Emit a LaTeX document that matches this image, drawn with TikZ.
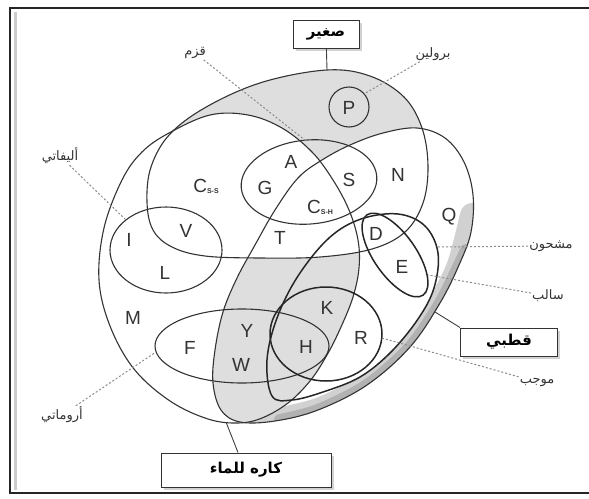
\documentclass[tikz,border=0pt]{standalone}
\usepackage{fontspec}
\setmainfont{Liberation Sans}
\newfontfamily\arabicfont[Script=Arabic]{DejaVu Sans}
\TeXXeTstate=1
\usetikzlibrary{shadows}
\newcommand{\artext}[1]{{\arabicfont\beginR #1\endR}}
\newcommand{\subsmall}[1]{{\fontsize{7}{7}\selectfont\bfseries\raisebox{-1pt}{#1}}}

\tikzset{
  setline/.style={draw=black!80, line width=1.1pt},
  boldset/.style={draw=black!85, line width=1.5pt},
  aa/.style={font=\fontsize{19}{19}\selectfont, text=black!80, inner sep=0pt},
  arlbl/.style={font=\fontsize{13}{15}\selectfont, text=black!80, inner sep=1pt},
  tagbox/.style={draw=black!80, line width=1pt, fill=white, minimum height=28pt,
    font=\fontsize{15}{17}\selectfont\bfseries,
    drop shadow={shadow xshift=2.5pt, shadow yshift=-2.5pt, fill=black!35}},
  dotline/.style={draw=black!45, line width=1pt, dash pattern=on 2pt off 2pt},
  tagline/.style={draw=black!75, line width=0.9pt}
}

\begin{document}
\begin{tikzpicture}[x=1pt, y=-1pt]
  \useasboundingbox (0,0) rectangle (589,498);
  \fill[white] (0,0) rectangle (589,498);

  % outlines of the sets
  \def\smallpath{plot[smooth cycle, tension=0.6] coordinates {(327,70) (370,76) (404,97) (422,128) (428,166) (423,203) (405,232) (372,249) (320,257) (260,258) (205,256) (172,247) (153,230) (147,202) (151,167) (170,134) (208,106) (263,82)}}
  \def\hydropath{plot[smooth cycle, tension=0.6] coordinates {(169,133) (210,115) (248,115) (282,128) (312,152) (333,180) (349,210) (358,240) (359,268) (353,297) (341,327) (327,355) (310,381) (288,403) (262,418) (238,423) (208,419) (170,401) (134,369) (110,326) (99,280) (104,228) (122,180) (142,152)}}
  \def\polarpath{plot[smooth cycle, tension=0.6] coordinates {(240,422) (221,410) (213,383) (215,350) (223,312) (237,278) (255,245) (275,210) (298,178) (322,160) (350,145) (383,133) (417,128) (445,138) (464,162) (473,195) (471,232) (459,265) (440,303) (410,347) (367,385) (318,410) (275,421)}}
  \def\chargedpath{plot[smooth cycle, tension=0.6] coordinates {(272,396) (267,360) (277,318) (298,276) (329,238) (361,219) (398,214) (425,226) (438,253) (434,288) (418,319) (391,352) (360,377) (323,392) (292,400)}}

  % grey shading
  \begin{scope}
    \clip \polarpath;
    \draw[black!18, line width=24pt, line cap=round] plot[smooth] coordinates {(472,215) (459,265) (440,303) (410,347) (367,385) (318,410) (262,423)};
    \draw[black!30, line width=12pt, line cap=round] plot[smooth] coordinates {(466,250) (459,265) (440,303) (410,347) (367,385) (318,410) (280,420)};
    \fill[white] \chargedpath;
  \end{scope}
  \begin{scope}
    \clip \polarpath;
    \clip \hydropath;
    \fill[black!13] (0,0) rectangle (589,498);
    \fill[white] \smallpath;
  \end{scope}
  \begin{scope}
    \clip \smallpath;
    \fill[black!13] (0,0) rectangle (589,498);
    \fill[white] \hydropath;
    \fill[white] \polarpath;
  \end{scope}

  \draw[setline] \smallpath;
  \draw[setline] \hydropath;
  \draw[setline] \polarpath;
  \draw[boldset] \chargedpath;
  \draw[setline, rotate around={5:(309,182)}] (309,182) ellipse [x radius=68pt, y radius=42pt];
  \draw[setline] (349,107) circle [radius=20pt];
  \draw[setline] (166,250) ellipse [x radius=56pt, y radius=43pt];
  \draw[setline] (242,346) ellipse [x radius=87pt, y radius=37pt];
  \draw[boldset] (326,334) ellipse [x radius=56pt, y radius=47pt];
  \draw[boldset, rotate around={-55:(395,255)}] (395,255) ellipse [x radius=49pt, y radius=21pt];

  % amino acids
  \node[aa] (resP) at (349,108) {P};
  \node[aa] (resA) at (291,162) {A};
  \node[aa] (resG) at (265,188) {G};
  \node[aa] (resS) at (349,180) {S};
  \node[aa] (resN) at (398,175) {N};
  \node[aa] (resCss) at (206,186) {C\subsmall{S-S}};
  \node[aa] (resCsh) at (320,207) {C\subsmall{S-H}};
  \node[aa] (resT) at (280,238) {T};
  \node[aa] (resD) at (376,234) {D};
  \node[aa] (resQ) at (449,217) {Q};
  \node[aa] (resE) at (402,267) {E};
  \node[aa] (resI) at (129,240) {I};
  \node[aa] (resV) at (186,231) {V};
  \node[aa] (resL) at (165,273) {L};
  \node[aa] (resM) at (133,318) {M};
  \node[aa] (resK) at (327,308) {K};
  \node[aa] (resR) at (361,338) {R};
  \node[aa] (resH) at (306,347) {H};
  \node[aa] (resY) at (247,331) {Y};
  \node[aa] (resF) at (190,348) {F};
  \node[aa] (resW) at (241,365) {W};

  % points on the outlines
  \coordinate (tinytop) at (306,141);
  \coordinate (protop) at (364,94);
  \coordinate (alitop) at (126,220);
  \coordinate (chgright) at (437,247);
  \coordinate (negright) at (428,275);
  \coordinate (posright) at (382,338);
  \coordinate (aroleft) at (156,352);
  \coordinate (smalltop) at (327,70);
  \coordinate (polaredge) at (435,312);
  \coordinate (hydrobottom) at (226,422);

  % labels
  \node[arlbl] (tinylbl) at (195,53) {\artext{قزم}};
  \node[arlbl] (prolbl) at (433,54) {\artext{برولين}};
  \node[arlbl] (alilbl) at (60,156) {\artext{أليفاتي}};
  \node[arlbl] (chglbl) at (551,246) {\artext{مشحون}};
  \node[arlbl] (neglbl) at (548,296) {\artext{سالب}};
  \node[arlbl] (poslbl) at (537,382) {\artext{موجب}};
  \node[arlbl] (arolbl) at (62,415) {\artext{أروماتي}};

  \draw[dotline] (tinylbl) -- (tinytop);
  \draw[dotline] (prolbl) -- (protop);
  \draw[dotline] (alilbl) -- (alitop);
  \draw[dotline] (chglbl) -- (chgright);
  \draw[dotline] (neglbl) -- (negright);
  \draw[dotline] (poslbl) -- (posright);
  \draw[dotline] (arolbl) -- (aroleft);

  % boxes
  \node[tagbox, minimum width=66pt] (smallbox) at (326,34) {\artext{صغير}};
  \node[tagbox, minimum width=97pt] (polarbox) at (509,342) {\artext{قطبي}};
  \node[tagbox, minimum width=170pt, minimum height=34pt] (hydrobox) at (246,470) {\artext{كاره للماء}};

  \draw[tagline] (smallbox) -- (smalltop);
  \draw[tagline] (polarbox.north west) -- (polaredge);
  \draw[tagline] ([xshift=-8pt]hydrobox.north) -- (hydrobottom);

  % frame
  \draw[black!20, line width=3pt] (15,12) -- (15,490);
  \draw[black!85, line width=2.5pt] (10,8) rectangle (620,493);
\end{tikzpicture}
\end{document}
